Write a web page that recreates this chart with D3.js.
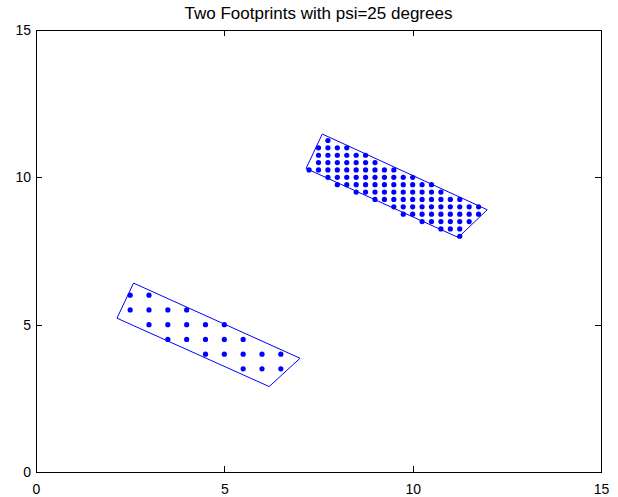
<!DOCTYPE html>
<html lang="en">
<head>
    <meta charset="UTF-8">
    <title>Two Footprints with psi=25 degrees</title>
    <script src="https://d3js.org/d3.v7.min.js"></script>
    <style>
        body { margin: 0; background: #fff; }
        svg { display: block; font-family: "Liberation Sans", Arial, sans-serif; }
        .axis path, .axis line { stroke: #000; shape-rendering: crispEdges; }
        .axis text { font-size: 14px; fill: #000; }
    </style>
</head>
<body>
<svg width="618" height="497"></svg>

<script>
    // tick values (same on both axes)
    const xTicks = [0, 5, 10, 15];
    const yTicks = [0, 5, 10, 15];

    // footprint outlines (x, y corners)
    const smallOutline = [[2.59, 6.41], [2.15, 5.22], [6.19, 2.90], [7.01, 3.86]];
    const largeOutline = [[7.60, 11.47], [7.17, 10.30], [11.21, 7.96], [11.98, 8.90]];

    // sample points, one entry per row: y and the x values in that row
    const smallRows = [
        [6.0, [2.5, 3.0]],
        [5.5, [2.5, 3.0, 3.5, 4.0]],
        [5.0, [3.0, 3.5, 4.0, 4.5, 5.0]],
        [4.5, [3.5, 4.0, 4.5, 5.0, 5.5]],
        [4.0, [4.5, 5.0, 5.5, 6.0, 6.5]],
        [3.5, [5.5, 6.0, 6.5]]
    ];
    const largeRows = [
        [11.25, [7.75]],
        [11.0, [7.5, 7.75, 8.0, 8.25]],
        [10.75, [7.5, 7.75, 8.0, 8.25, 8.5, 8.75]],
        [10.5, [7.5, 7.75, 8.0, 8.25, 8.5, 8.75, 9.0]],
        [10.25, [7.25, 7.5, 7.75, 8.0, 8.25, 8.5, 8.75, 9.0, 9.25, 9.5]],
        [10.0, [7.75, 8.0, 8.25, 8.5, 8.75, 9.0, 9.25, 9.5, 9.75, 10.0]],
        [9.75, [8.0, 8.25, 8.5, 8.75, 9.0, 9.25, 9.5, 9.75, 10.0, 10.25, 10.5]],
        [9.5, [8.5, 8.75, 9.0, 9.25, 9.5, 9.75, 10.0, 10.25, 10.5, 10.75]],
        [9.25, [9.0, 9.25, 9.5, 9.75, 10.0, 10.25, 10.5, 10.75, 11.0, 11.25]],
        [9.0, [9.5, 9.75, 10.0, 10.25, 10.5, 10.75, 11.0, 11.25, 11.5, 11.75]],
        [8.75, [9.75, 10.0, 10.25, 10.5, 10.75, 11.0, 11.25, 11.5, 11.75]],
        [8.5, [10.25, 10.5, 10.75, 11.0, 11.25, 11.5]],
        [8.25, [10.75, 11.0, 11.25]],
        [8.0, [11.25]]
    ];

    const svg = d3.select("svg");
    const margin = { left: 36, right: 17, top: 30, bottom: 25 };
    const W = 618 - margin.left - margin.right;
    const H = 497 - margin.top - margin.bottom;

    const x = d3.scaleLinear().domain([0, 15]).range([0, W]);
    const y = d3.scaleLinear().domain([0, 15]).range([H, 0]);

    const g = svg.append("g").attr("transform", `translate(${margin.left},${margin.top})`);

    // axes, ticks pointing inward like matlab
    g.append("g").attr("class", "axis")
        .attr("transform", `translate(0,${H})`)
        .call(d3.axisBottom(x).tickValues(xTicks).tickSize(-6).tickPadding(12).tickSizeOuter(0));
    g.append("g").attr("class", "axis")
        .call(d3.axisLeft(y).tickValues(yTicks).tickSize(-6).tickPadding(5).tickSizeOuter(0));
    g.append("g").attr("class", "axis")
        .call(d3.axisTop(x).tickValues(xTicks).tickSize(-6).tickFormat("").tickSizeOuter(0));
    g.append("g").attr("class", "axis")
        .attr("transform", `translate(${W},0)`)
        .call(d3.axisRight(y).tickValues(yTicks).tickSize(-6).tickFormat("").tickSizeOuter(0));

    // title
    svg.append("text")
        .attr("x", margin.left + W / 2)
        .attr("y", 19)
        .attr("text-anchor", "middle")
        .style("font-size", "17px")
        .text("Two Footprints with psi=25 degrees");

    const line = d3.line().x(d => x(d[0])).y(d => y(d[1]));

    [smallOutline, largeOutline].forEach(pts => {
        g.append("path")
            .attr("d", line(pts.concat([pts[0]])))
            .attr("fill", "none")
            .attr("stroke", "#0000ff")
            .attr("stroke-width", 1);
    });

    const dots = [];
    smallRows.concat(largeRows).forEach(([yv, xs]) => xs.forEach(xv => dots.push([xv, yv])));

    g.selectAll("circle.pt")
        .data(dots)
        .enter()
        .append("circle")
        .attr("class", "pt")
        .attr("cx", d => x(d[0]))
        .attr("cy", d => y(d[1]))
        .attr("r", 2.6)
        .attr("fill", "#0000ff");
</script>
</body>
</html>
